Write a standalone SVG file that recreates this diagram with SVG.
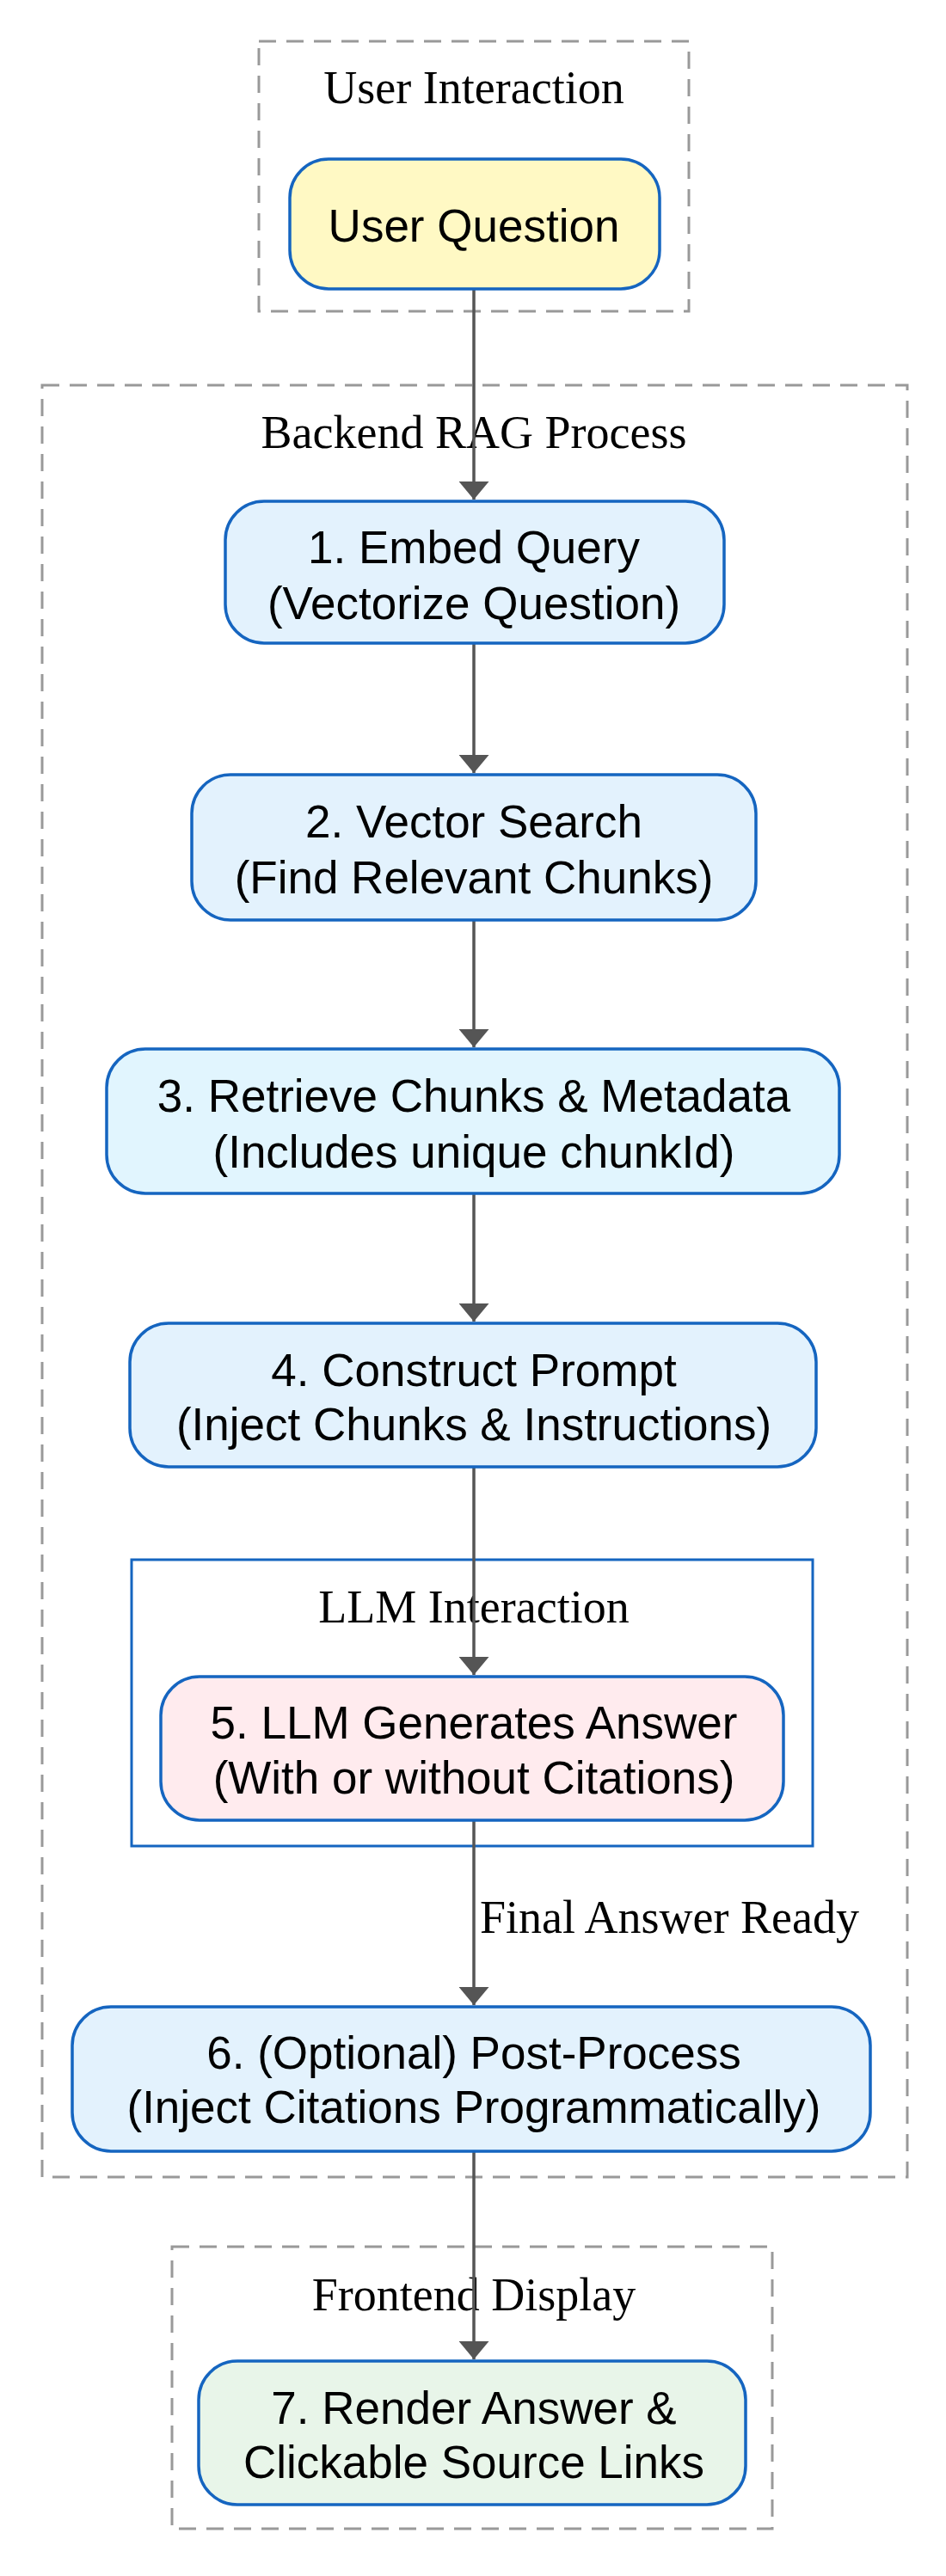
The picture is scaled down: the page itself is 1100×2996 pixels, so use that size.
<svg xmlns="http://www.w3.org/2000/svg" width="1100" height="2996" viewBox="0 0 1100 2996">
<style>
.cl{fill:none;stroke:#999;stroke-width:3;stroke-dasharray:20,12}
.ct{font-family:"Liberation Serif",serif;font-size:54px;text-anchor:middle;fill:#000}
.n{stroke:#1565C0;stroke-width:3.5}
.nt{font-family:"Liberation Sans",Arial,sans-serif;font-size:53px;text-anchor:middle;fill:#000}
.e{stroke:#555;stroke-width:3.5;fill:none;marker-end:url(#ah)}
</style>
<defs><marker id="ah" markerWidth="6" markerHeight="10" refX="6" refY="5" orient="auto" markerUnits="strokeWidth"><path d="M0,0 L6,5 L0,10 Z" fill="#555"/></marker></defs>
<rect width="1100" height="2996" fill="#fff"/>
<g id="cluster_user"><rect class="cl" x="301" y="48" width="500" height="314"/><text class="ct" x="551" y="120">User Interaction</text></g>
<g id="cluster_backend"><rect class="cl" x="49" y="448" width="1006" height="2084"/><text class="ct" x="551" y="521">Backend RAG Process</text></g>
<g id="cluster_llm"><rect x="153" y="1814" width="792" height="333" fill="none" stroke="#1565C0" stroke-width="3"/><text class="ct" x="551" y="1887">LLM Interaction</text></g>
<g id="cluster_front"><rect class="cl" x="200" y="2613" width="698" height="328"/><text class="ct" x="551" y="2687">Frontend Display</text></g>
<g id="connectors">
<line class="e" x1="551" y1="336" x2="551" y2="581"/>
<line class="e" x1="551" y1="748" x2="551" y2="899"/>
<line class="e" x1="551" y1="1070" x2="551" y2="1218"/>
<line class="e" x1="551" y1="1388" x2="551" y2="1537"/>
<line class="e" x1="551" y1="1706" x2="551" y2="1948"/>
<line class="e" x1="551" y1="2117" x2="551" y2="2332"/>
<line class="e" x1="551" y1="2502" x2="551" y2="2744"/>
<text x="558" y="2248" font-family="Liberation Serif,serif" font-size="54px" fill="#000">Final Answer Ready</text>
</g>
<g id="user_q"><rect class="n" x="337" y="185" width="430" height="151" rx="45" fill="#FFF9C4"/><text class="nt" x="551" y="281">User Question</text></g>
<g id="n1"><rect class="n" x="262" y="583" width="580" height="165" rx="45" fill="#E3F2FD"/><text class="nt" x="551" y="655">1. Embed Query</text><text class="nt" x="551" y="720">(Vectorize Question)</text></g>
<g id="n2"><rect class="n" x="223" y="901" width="656" height="169" rx="45" fill="#E3F2FD"/><text class="nt" x="551" y="974">2. Vector Search</text><text class="nt" x="551" y="1039">(Find Relevant Chunks)</text></g>
<g id="n3"><rect class="n" x="124" y="1220" width="852" height="168" rx="45" fill="#E1F5FE"/><text class="nt" x="551" y="1293">3. Retrieve Chunks &amp; Metadata</text><text class="nt" x="551" y="1358">(Includes unique chunkId)</text></g>
<g id="n4"><rect class="n" x="151" y="1539" width="798" height="167" rx="45" fill="#E3F2FD"/><text class="nt" x="551" y="1612">4. Construct Prompt</text><text class="nt" x="551" y="1675">(Inject Chunks &amp; Instructions)</text></g>
<g id="n5"><rect class="n" x="187" y="1950" width="724" height="167" rx="45" fill="#FFEBEE"/><text class="nt" x="551" y="2022">5. LLM Generates Answer</text><text class="nt" x="551" y="2086">(With or without Citations)</text></g>
<g id="n6"><rect class="n" x="84" y="2334" width="928" height="168" rx="45" fill="#E3F2FD"/><text class="nt" x="551" y="2406">6. (Optional) Post-Process</text><text class="nt" x="551" y="2469">(Inject Citations Programmatically)</text></g>
<g id="n7"><rect class="n" x="231" y="2746" width="636" height="167" rx="45" fill="#E8F5E9"/><text class="nt" x="551" y="2819">7. Render Answer &amp;</text><text class="nt" x="551" y="2882">Clickable Source Links</text></g>
</svg>
